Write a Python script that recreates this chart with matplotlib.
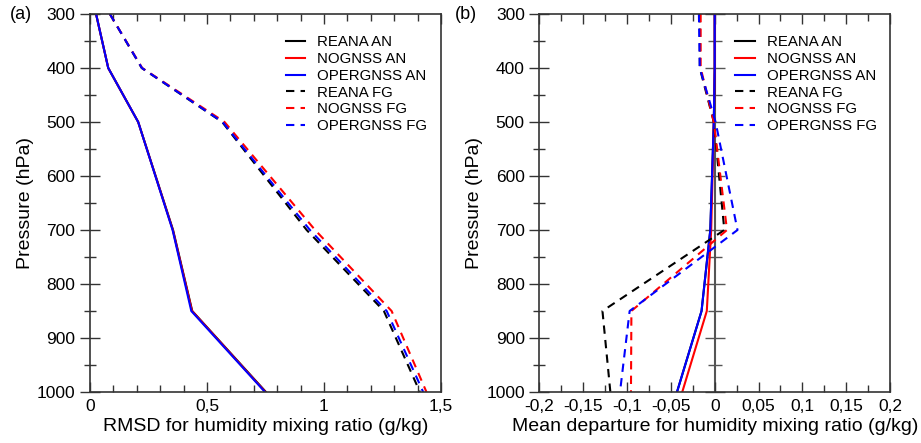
import matplotlib
matplotlib.use("Agg")
import matplotlib.pyplot as plt
from matplotlib.ticker import MultipleLocator, FuncFormatter

plt.rcParams["font.family"] = ["Liberation Sans", "DejaVu Sans"]

# pressure levels (hPa)
levels = [300, 400, 500, 700, 850, 1000]

# (a) RMSD (g/kg)
rmsd_reana_an = [0.026, 0.078, 0.206, 0.355, 0.437, 0.752]
rmsd_nognss_an = [0.026, 0.078, 0.206, 0.354, 0.436, 0.750]
rmsd_opergnss_an = [0.026, 0.078, 0.206, 0.353, 0.433, 0.748]
rmsd_reana_fg = [0.085, 0.221, 0.565, 0.926, 1.256, 1.410]
rmsd_nognss_fg = [0.085, 0.223, 0.575, 0.962, 1.289, 1.438]
rmsd_opergnss_fg = [0.085, 0.222, 0.567, 0.940, 1.268, 1.424]

# (b) mean departure (g/kg)
md_reana_an = [0.0, 0.0, -0.001, -0.005, -0.015, -0.043]
md_nognss_an = [0.0, 0.0, -0.001, -0.004, -0.009, -0.037]
md_opergnss_an = [0.0, 0.0, -0.001, -0.005, -0.015, -0.043]
md_reana_fg = [-0.017, -0.017, -0.001, 0.011, -0.128, -0.119]
md_nognss_fg = [-0.016, -0.016, -0.001, 0.014, -0.095, -0.0955]
md_opergnss_fg = [-0.018, -0.017, 0.001, 0.026, -0.097, -0.108]

names = ["REANA", "NOGNSS", "OPERGNSS"]
colors = ["black", "#ff0000", "#0000ff"]
spine_col = "#333333"
dash = (0, (4, 3))


def comma(v, pos=None):
    s = f"{v:g}"
    return s.replace(".", ",")


def style_axes(ax, xlim, xmajor, xminor):
    ax.set_xlim(*xlim)
    ax.set_ylim(1000, 300)
    ax.xaxis.set_major_locator(MultipleLocator(xmajor))
    ax.xaxis.set_minor_locator(MultipleLocator(xminor))
    ax.xaxis.set_major_formatter(FuncFormatter(comma))
    ax.yaxis.set_major_locator(MultipleLocator(100))
    ax.yaxis.set_minor_locator(MultipleLocator(50))
    ax.tick_params(axis="x", which="both", direction="in", top=True, bottom=True,
                   labelsize=12.5, pad=5, color=spine_col)
    ax.tick_params(axis="x", which="major", length=7.5, width=1)
    ax.tick_params(axis="x", which="minor", length=5, width=1)
    ax.tick_params(axis="y", which="both", direction="inout", left=True, right=False,
                   labelsize=12.5, pad=3, color=spine_col)
    ax.tick_params(axis="y", which="major", length=15, width=1)
    ax.tick_params(axis="y", which="minor", length=8, width=1)
    for sp in ax.spines.values():
        sp.set_color(spine_col)
        sp.set_linewidth(1.2)
    ax.set_ylabel("Pressure (hPa)", fontsize=14, labelpad=2)
    ax.legend(loc="upper right", bbox_to_anchor=(1.0, 0.979), frameon=False,
              fontsize=10.8, handlelength=1.3, handletextpad=0.8,
              labelspacing=0.18, borderaxespad=0.5)


fig = plt.figure(figsize=(9.21, 4.43), dpi=100)
ax1 = fig.add_axes([0.0977, 0.1151, 0.3811, 0.8533])
ax2 = fig.add_axes([0.5856, 0.1151, 0.3808, 0.8533])

an_a = [rmsd_reana_an, rmsd_nognss_an, rmsd_opergnss_an]
fg_a = [rmsd_reana_fg, rmsd_nognss_fg, rmsd_opergnss_fg]
an_b = [md_reana_an, md_nognss_an, md_opergnss_an]
fg_b = [md_reana_fg, md_nognss_fg, md_opergnss_fg]

for ax, an, fg in [(ax1, an_a, fg_a), (ax2, an_b, fg_b)]:
    for name, col, vals in zip(names, colors, an):
        ax.plot(vals, levels, color=col, lw=1.5, label=f"{name} AN")
    for name, col, vals in zip(names, colors, fg):
        ax.plot(vals, levels, color=col, lw=1.5, ls=dash, label=f"{name} FG")

style_axes(ax1, (0, 1.5), 0.5, 0.1)
style_axes(ax2, (-0.2, 0.2), 0.05, 0.025)
ax1.set_xlabel("RMSD for humidity mixing ratio (g/kg)", fontsize=14, labelpad=3)
ax2.set_xlabel("Mean departure for humidity mixing ratio (g/kg)", fontsize=14, labelpad=3)

# zero line with its own tick marks in panel (b)
ax2.axvline(0, color="#555555", lw=1.5, zorder=1)
sec = ax2.secondary_yaxis(0, transform=ax2.transData)
sec.yaxis.set_major_locator(MultipleLocator(100))
sec.yaxis.set_minor_locator(MultipleLocator(50))
sec.tick_params(which="both", direction="inout", labelleft=False, labelright=False,
                color="#555555")
sec.tick_params(which="major", length=15, width=1)
sec.tick_params(which="minor", length=10, width=1)
sec.spines["left"].set_visible(False)

fig.text(0.011, 0.968, "(a)", fontsize=13, va="center")
fig.text(0.494, 0.968, "(b)", fontsize=13, va="center")

fig.savefig("out.png", dpi=100)
